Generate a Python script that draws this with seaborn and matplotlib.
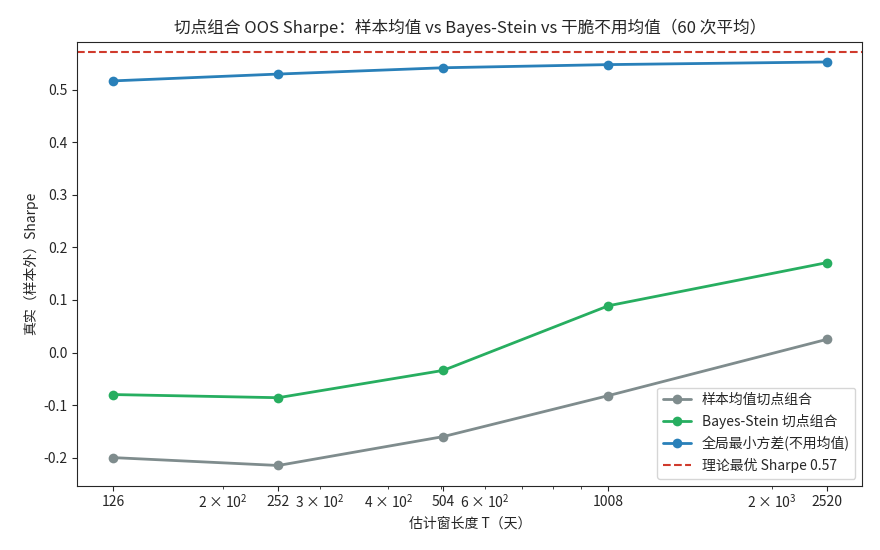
import matplotlib
matplotlib.use("Agg")
import matplotlib.pyplot as plt
import matplotlib.ticker as mticker
import seaborn as sns
import pandas as pd

T = [126, 252, 504, 1008, 2520]
sample_mean = [-0.200, -0.215, -0.160, -0.082, 0.025]
bayes_stein = [-0.080, -0.086, -0.034, 0.089, 0.171]
gmv = [0.517, 0.530, 0.542, 0.548, 0.553]
theory = 0.572

names = ["样本均值切点组合", "Bayes-Stein 切点组合", "全局最小方差(不用均值)"]
colors = ["#7f8c8d", "#27ae60", "#2980b9"]

sns.set_style("ticks")
plt.rcParams['font.family'] = ['Noto Sans CJK SC', 'DejaVu Sans']
plt.rcParams['axes.unicode_minus'] = False

df = pd.DataFrame({
    "T": T * 3,
    "sharpe": sample_mean + bayes_stein + gmv,
    "method": [names[0]] * 5 + [names[1]] * 5 + [names[2]] * 5,
})

fig, ax = plt.subplots(figsize=(8.8, 5.5), dpi=100)
sns.lineplot(data=df, x="T", y="sharpe", hue="method", hue_order=names,
             palette=colors, marker="o", markersize=7, markeredgewidth=0,
             linewidth=2, ax=ax)
ax.axhline(theory, color="#d03a2c", linestyle="--", linewidth=1.5,
           label="理论最优 Sharpe 0.57")
ax.set_xscale("log")
ax.set_xticks(T)
ax.set_xticklabels([str(t) for t in T])
ax.xaxis.set_minor_locator(mticker.LogLocator(base=10, subs=range(2, 10), numticks=12))
ax.xaxis.set_minor_formatter(mticker.LogFormatterSciNotation(
    base=10, labelOnlyBase=False, minor_thresholds=(2, 0.4)))
ax.set_xlabel("估计窗长度 T（天）")
ax.set_ylabel("真实（样本外）Sharpe")
ax.set_title("切点组合 OOS Sharpe：样本均值 vs Bayes-Stein vs 干脆不用均值（60 次平均）", fontsize=12)
ax.legend(loc="lower right", title=None)
for s in ax.spines.values():
    s.set_visible(True)
fig.subplots_adjust(left=0.088, right=0.98, top=0.924, bottom=0.117)
fig.savefig("out.png", dpi=100)
